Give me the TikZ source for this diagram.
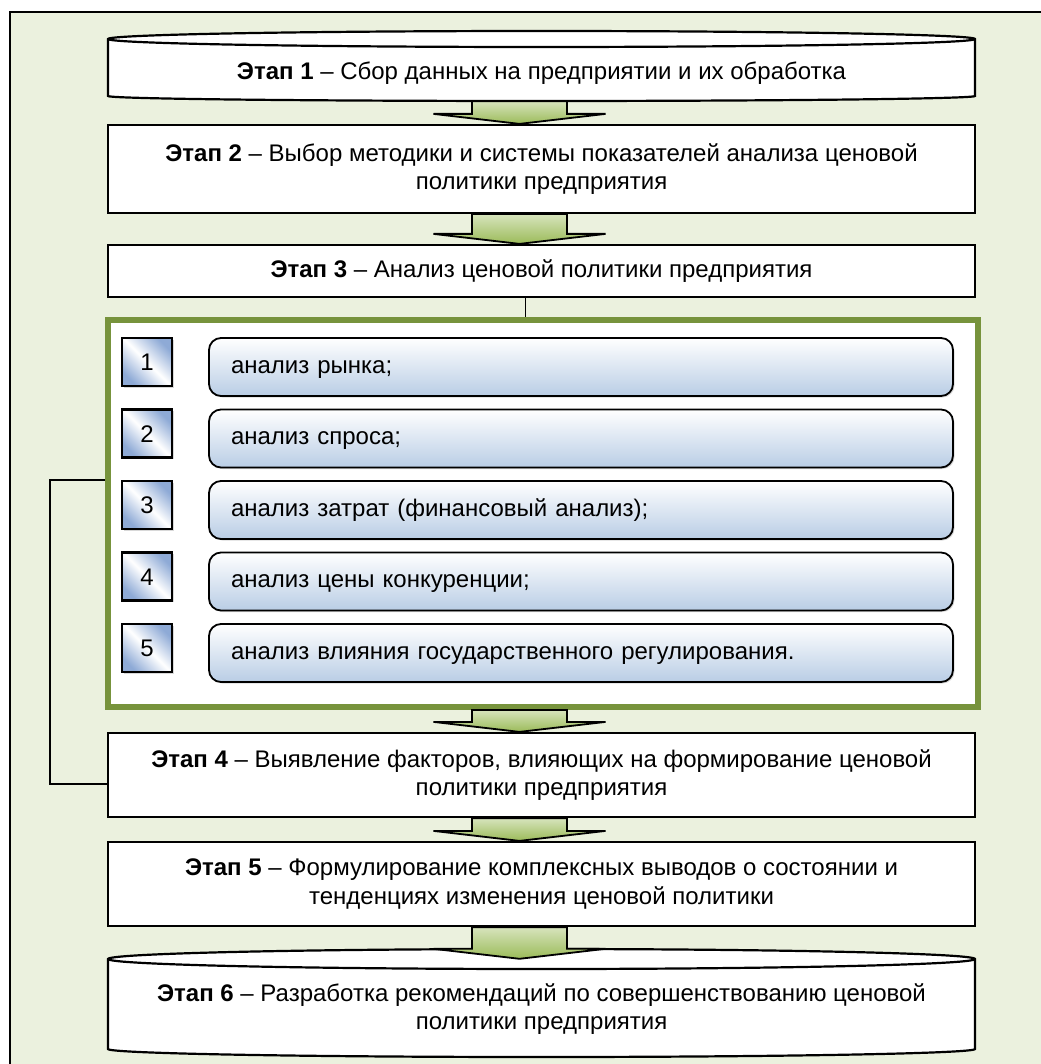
\documentclass[tikz,border=0pt]{standalone}
\usepackage{fontspec}
\setmainfont{Liberation Sans}
\usetikzlibrary{calc,shadows}
\definecolor{panel}{HTML}{EBF1DE}
\definecolor{olive}{HTML}{77933C}
\definecolor{arrowlight}{HTML}{D7E4BD}
\definecolor{arrowdark}{HTML}{9BBB59}
\definecolor{itemblue}{HTML}{B9CDE5}
\definecolor{numblue}{HTML}{8EAAD6}
\begin{document}
\begin{tikzpicture}[x=1pt,y=-1pt,
    font=\fontsize{24}{28.5}\selectfont,
    stage/.style={draw,line width=2.2pt,fill=white,minimum width=867pt,align=center,inner sep=0pt},
    drum/.style={minimum width=867pt,align=center,inner sep=0pt},
    drumline/.style={draw,line width=2.2pt,fill=white},
    group/.style={draw=olive,line width=6pt,fill=white,minimum width=870pt,minimum height=387pt},
    numbox/.style={draw,line width=2.6pt,minimum width=50pt,minimum height=48pt,inner sep=0pt,
        text height=17pt,text depth=0pt,
        left color=numblue,right color=numblue,middle color=white,shading angle=135,
        drop shadow={shadow xshift=1.5pt,shadow yshift=-1.5pt,opacity=.3}},
    item/.style={draw,line width=1.8pt,rounded corners=12pt,top color=white,bottom color=itemblue,
        minimum width=744pt,minimum height=58pt,text width=700pt,align=left,inner xsep=22pt,
        text height=12pt,text depth=0pt,
        drop shadow={shadow xshift=1.5pt,shadow yshift=-1.5pt,opacity=.3}},
    link/.style={line width=1.6pt},
    blockarrow/.style={draw,line width=1.8pt,top color=arrowlight,bottom color=arrowdark}]

\fill[white] (0,0) rectangle (1040,1064);
\useasboundingbox (0,0) rectangle (1040,1064);
\draw[line width=2pt,fill=panel] (10,12) rectangle (1070,1090);

% drum shaped stages 1 and 6
\coordinate (c1) at (541.5,71.5);
\coordinate (c6) at (541.5,1009);
\foreach \c/\h/\rt/\rb in {c1/24.5/8/5, c6/40/10/8}
{   \draw[drumline] ($(\c)+(-433.5,\h)$) -- ($(\c)+(-433.5,-\h-\rt)$)
        arc[start angle=180,end angle=0,x radius=433.5pt,y radius=\rt*1pt]
        -- ($(\c)+(433.5,\h)$)
        arc[start angle=0,end angle=-180,x radius=433.5pt,y radius=\rb*1pt] -- cycle;
    \draw[line width=2.2pt] ($(\c)+(-433.5,-\h-\rt)$)
        arc[start angle=180,end angle=360,x radius=433.5pt,y radius=\rt*1pt];
}
\node[drum,minimum height=49pt,text height=17pt,text depth=0pt] (s1) at (c1) {\textbf{Этап 1} – Сбор данных на предприятии и их обработка};
\node[drum,minimum height=80pt] (s6) at (c6) {\textbf{Этап 6} – Разработка рекомендаций по совершенствованию ценовой\\политики предприятия};

\node[stage,minimum height=88pt] (s2) at (541.5,169) {\textbf{Этап 2} – Выбор методики и системы показателей анализа ценовой\\политики предприятия};
\node[stage,minimum height=52pt] (s3) at (541.5,271) {\textbf{Этап 3} – Анализ ценовой политики предприятия};
\node[stage,minimum height=84pt] (s4) at (541.5,775) {\textbf{Этап 4} – Выявление факторов, влияющих на формирование ценовой\\политики предприятия};
\node[stage,minimum height=84pt] (s5) at (541.5,884) {\textbf{Этап 5} – Формулирование комплексных выводов о состоянии и\\тенденциях изменения ценовой политики};

% analysis block
\node[group] (grp) at (543,513.5) {};
\foreach \i/\txt in {1/анализ рынка;, 2/анализ спроса;, 3/анализ затрат (финансовый анализ);,
    4/анализ цены конкуренции;, 5/анализ влияния государственного регулирования.}
{   \pgfmathsetmacro\yt{338+(\i-1)*71.5}
    \node[numbox] (n\i) at (147,\yt+24) {\i};
    \node[item] (r\i) at (581,\yt+29) {\txt};
}

\draw[link] ([xshift=-16pt]s3.south) -- ([xshift=-16pt]s3.south |- grp.north);
\coordinate (tap) at (grp.west |- 0,480);
\draw[link] (tap) -- ++(-55,0) |- ([yshift=-9pt]s4.west);

% block arrows between stages
\coordinate (s1foot) at ([yshift=-5pt]s1.south);
\coordinate (s6top) at ([yshift=10pt]s6.north);
\foreach \u/\v in {s1foot/s2.north, s2.south/s3.north, grp.south/s4.north, s4.south/s5.north, s5.south/s6top}
{   \path[blockarrow] let \p1=(\u), \p2=(\v) in
        (\x2-69.5,\y1) -- (\x2+25.5,\y1) -- (\x2+25.5,\y2+10) -- (\x2+64,\y2+10)
        -- (\x2-22,\y2) -- (\x2-108,\y2+10) -- (\x2-69.5,\y2+10) -- cycle;
}
\end{tikzpicture}
\end{document}
